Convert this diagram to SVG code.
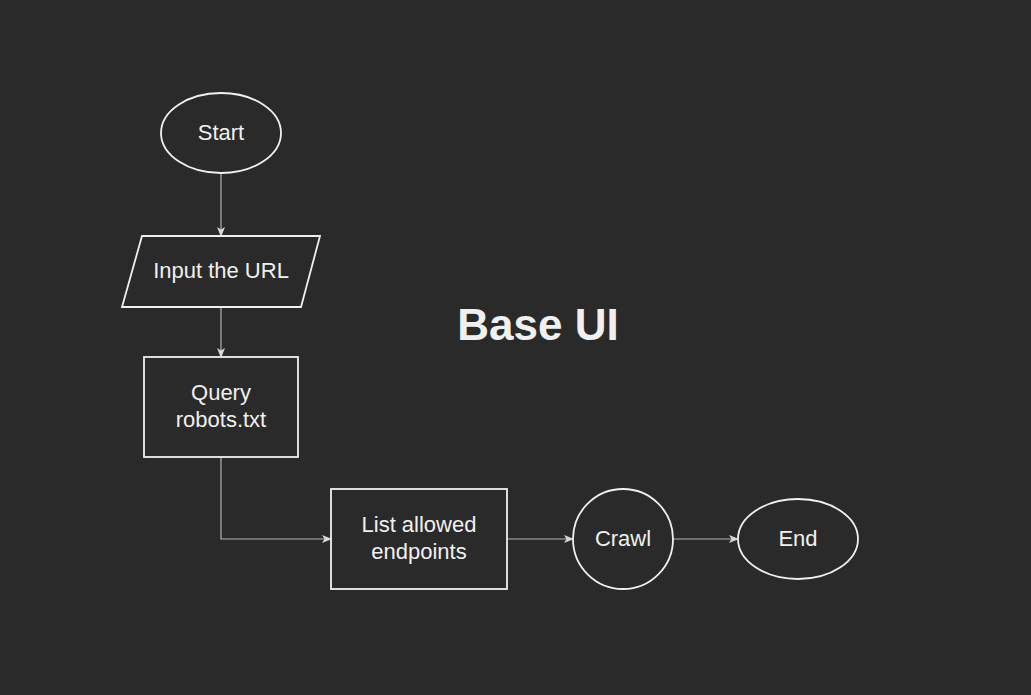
<svg xmlns="http://www.w3.org/2000/svg" width="1031" height="695" viewBox="0 0 1031 695">
<defs>
<style>
.node{fill:#2a2a2a;stroke:#f0f0f0;stroke-width:1.8}
.lbl{fill:#f0f0f0;font-family:"Liberation Sans",Arial,sans-serif;font-size:22px;text-anchor:middle}
.title{fill:#f0f0f0;font-family:"Liberation Sans",Arial,sans-serif;font-size:44px;font-weight:bold;text-anchor:middle}
.edge{fill:none;stroke:#b4b4b4;stroke-width:1.2}
</style>
<marker id="arr" viewBox="0 0 10 10" refX="9" refY="5" markerWidth="10" markerHeight="10" markerUnits="userSpaceOnUse" orient="auto">
<path d="M0,1 L10,5 L0,9 L2.5,5 Z" fill="#d8d8d8"/>
</marker>
</defs>
<rect width="1031" height="695" fill="#2a2a2a"/>
<g id="connectors">
<path class="edge" d="M221,173 V236" marker-end="url(#arr)"/>
<path class="edge" d="M221,307 V357" marker-end="url(#arr)"/>
<path class="edge" d="M221,457 V539 H331" marker-end="url(#arr)"/>
<path class="edge" d="M507,539 H573" marker-end="url(#arr)"/>
<path class="edge" d="M673,539 H738" marker-end="url(#arr)"/>
</g>
<g id="start">
<ellipse class="node" cx="221" cy="133" rx="60" ry="40"/>
<text class="lbl" x="221" y="140">Start</text>
</g>
<g id="input">
<polygon class="node" points="142,236 320,236 301,307 122,307"/>
<text class="lbl" x="221" y="278">Input the URL</text>
</g>
<g id="query">
<rect class="node" x="144" y="357" width="154" height="100"/>
<text class="lbl" x="221" y="400">Query</text>
<text class="lbl" x="221" y="427">robots.txt</text>
</g>
<g id="list">
<rect class="node" x="331" y="489" width="176" height="100"/>
<text class="lbl" x="419" y="532">List allowed</text>
<text class="lbl" x="419" y="559">endpoints</text>
</g>
<g id="crawl">
<circle class="node" cx="623" cy="539" r="50"/>
<text class="lbl" x="623" y="546">Crawl</text>
</g>
<g id="end">
<ellipse class="node" cx="798" cy="539" rx="60" ry="40"/>
<text class="lbl" x="798" y="546">End</text>
</g>
<g id="title">
<text class="title" x="538" y="340">Base UI</text>
</g>
</svg>
